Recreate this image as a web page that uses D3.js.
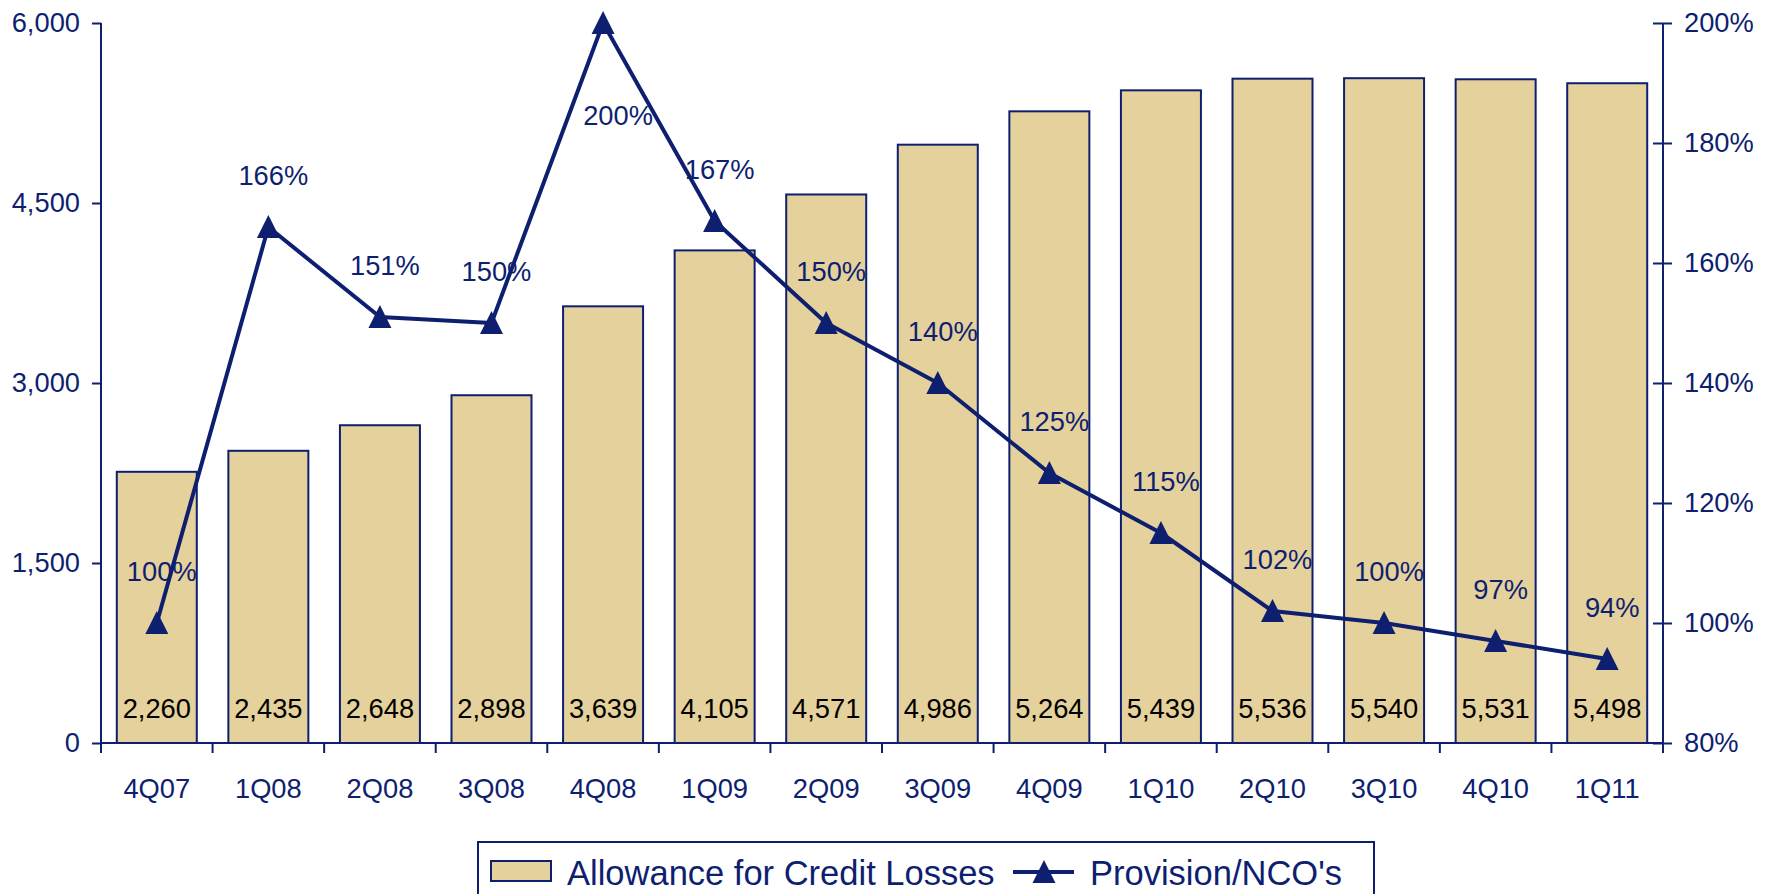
<!DOCTYPE html>
<html>
<head>
<meta charset="utf-8">
<script src="https://cdn.jsdelivr.net/npm/d3@7"></script>
<style>
  html, body { margin: 0; padding: 0; background: #ffffff; }
  svg { display: block; font-family: "Liberation Sans", Arial, sans-serif; }
</style>
</head>
<body>
<svg id="chart" width="1770" height="894"></svg>
<script>
// Quarterly allowance for credit losses (bars, left axis) and provision / NCO ratio (line, right axis)
const quarters = ["4Q07", "1Q08", "2Q08", "3Q08", "4Q08", "1Q09", "2Q09", "3Q09", "4Q09", "1Q10", "2Q10", "3Q10", "4Q10", "1Q11"];
const allowance = [2260, 2435, 2648, 2898, 3639, 4105, 4571, 4986, 5264, 5439, 5536, 5540, 5531, 5498];
const provisionRatio = [1.00, 1.66, 1.51, 1.50, 2.00, 1.67, 1.50, 1.40, 1.25, 1.15, 1.02, 1.00, 0.97, 0.94];
const leftTicks = [0, 1500, 3000, 4500, 6000];
const rightTicks = [0.8, 1.0, 1.2, 1.4, 1.6, 1.8, 2.0];
const seriesNames = ["Allowance for Credit Losses", "Provision/NCO's"];

const NAVY = "#0e1f70";
const TAN = "#e5d19b";
const FONT = 27.3;

const svg = d3.select("#chart");

const plot = { left: 101, right: 1663, top: 23, bottom: 743 };

const x = d3.scaleBand()
  .domain(quarters)
  .range([plot.left, plot.right])
  .paddingInner(0.283)
  .paddingOuter(0.1415);

const yL = d3.scaleLinear().domain([0, 6000]).range([plot.bottom, plot.top]);
const yR = d3.scaleLinear().domain([0.8, 2.0]).range([plot.bottom, plot.top]);

const cx = q => x(q) + x.bandwidth() / 2;

// Bars
svg.append("g")
  .selectAll("rect")
  .data(quarters)
  .join("rect")
  .attr("x", q => x(q))
  .attr("y", (q, i) => yL(allowance[i]))
  .attr("width", x.bandwidth())
  .attr("height", (q, i) => yL(0) - yL(allowance[i]))
  .attr("fill", TAN)
  .attr("stroke", NAVY)
  .attr("stroke-width", 2);

// Bar value labels near the base
svg.append("g")
  .selectAll("text")
  .data(quarters)
  .join("text")
  .attr("x", q => cx(q))
  .attr("y", yL(0) - 35)
  .attr("dy", "0.35em")
  .attr("text-anchor", "middle")
  .attr("font-size", FONT)
  .attr("fill", "#000")
  .text((q, i) => d3.format(",")(allowance[i]));

// Left axis
const leftAxis = d3.axisLeft(yL)
  .tickValues(leftTicks)
  .tickFormat(d3.format(","))
  .tickSize(9)
  .tickSizeOuter(0)
  .tickPadding(12);
const gL = svg.append("g").attr("transform", `translate(${plot.left},0)`).call(leftAxis);

// Right axis (ticks cross the line)
const rightAxis = d3.axisRight(yR)
  .tickValues(rightTicks)
  .tickFormat(d3.format(".0%"))
  .tickSize(9)
  .tickSizeOuter(0)
  .tickPadding(12);
const gR = svg.append("g").attr("transform", `translate(${plot.right},0)`).call(rightAxis);
gR.selectAll(".tick line").attr("x1", -10);

[gL, gR].forEach(g => {
  g.select(".domain").attr("stroke", NAVY).attr("stroke-width", 2)
    .attr("d", `M0,${plot.top}V${plot.bottom + 10}`);
  g.selectAll(".tick line").attr("stroke", NAVY).attr("stroke-width", 2);
  g.selectAll(".tick text").attr("fill", NAVY).attr("font-size", FONT)
    .attr("font-family", "Liberation Sans, Arial, sans-serif");
});

// Category axis: line at zero with ticks on the band boundaries
const gB = svg.append("g");
gB.append("line")
  .attr("x1", plot.left).attr("x2", plot.right)
  .attr("y1", plot.bottom).attr("y2", plot.bottom)
  .attr("stroke", NAVY).attr("stroke-width", 2);
const boundaries = quarters.map(q => x(q) - x.step() * x.paddingInner() / 2).concat([plot.right]);
gB.selectAll("line.bt")
  .data(boundaries)
  .join("line")
  .attr("class", "bt")
  .attr("x1", d => d).attr("x2", d => d)
  .attr("y1", plot.bottom).attr("y2", plot.bottom + 10)
  .attr("stroke", NAVY).attr("stroke-width", 2);
gB.selectAll("text")
  .data(quarters)
  .join("text")
  .attr("x", q => cx(q))
  .attr("y", plot.bottom + 45)
  .attr("dy", "0.35em")
  .attr("text-anchor", "middle")
  .attr("font-size", FONT)
  .attr("fill", NAVY)
  .text(q => q);

// Provision / NCO line
const line = d3.line()
  .x((v, i) => cx(quarters[i]))
  .y(v => yR(v));
svg.append("path")
  .datum(provisionRatio)
  .attr("d", line)
  .attr("fill", "none")
  .attr("stroke", NAVY)
  .attr("stroke-width", 4)
  .attr("stroke-linejoin", "round");

const tri = "M0,-12L11.5,11L-11.5,11Z";
svg.append("g")
  .selectAll("path")
  .data(provisionRatio)
  .join("path")
  .attr("transform", (v, i) => `translate(${cx(quarters[i])},${yR(v)})`)
  .attr("d", tri)
  .attr("fill", NAVY);

// Ratio labels: above each marker, the peak one sits beneath it
const peak = d3.max(provisionRatio);
svg.append("g")
  .selectAll("text")
  .data(provisionRatio)
  .join("text")
  .attr("x", (v, i) => cx(quarters[i]) + (v === peak ? 15 : 5))
  .attr("y", v => yR(v) + (v === peak ? 92 : -52))
  .attr("dy", "0.35em")
  .attr("text-anchor", "middle")
  .attr("font-size", FONT)
  .attr("fill", NAVY)
  .text(v => d3.format(".0%")(v));

// Legend
const lg = svg.append("g");
lg.append("rect")
  .attr("x", 478).attr("y", 842)
  .attr("width", 896).attr("height", 80)
  .attr("fill", "#fff")
  .attr("stroke", NAVY).attr("stroke-width", 2);
lg.append("rect")
  .attr("x", 491).attr("y", 861)
  .attr("width", 60).attr("height", 20)
  .attr("fill", TAN).attr("stroke", NAVY).attr("stroke-width", 2);
lg.append("text")
  .attr("x", 567).attr("y", 885)
  .attr("font-size", 34.5)
  .attr("fill", NAVY)
  .text(seriesNames[0]);
lg.append("line")
  .attr("x1", 1013).attr("x2", 1074)
  .attr("y1", 872).attr("y2", 872)
  .attr("stroke", NAVY).attr("stroke-width", 4);
lg.append("path")
  .attr("transform", "translate(1044,872)")
  .attr("d", tri)
  .attr("fill", NAVY);
lg.append("text")
  .attr("x", 1090).attr("y", 885)
  .attr("font-size", 34.5)
  .attr("fill", NAVY)
  .text(seriesNames[1]);
</script>
</body>
</html>
